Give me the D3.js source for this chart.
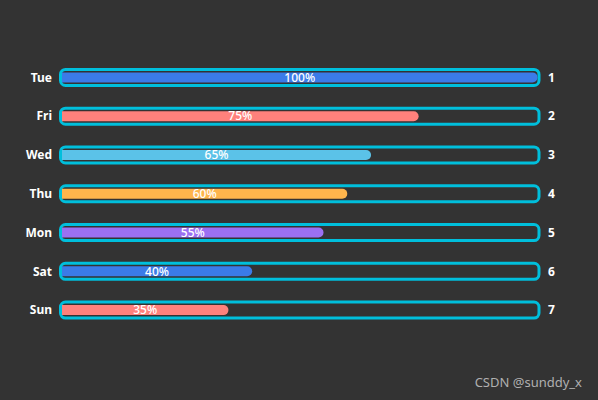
<!DOCTYPE html>
<html><head><meta charset="utf-8">
<script src="https://cdn.jsdelivr.net/npm/d3@7/dist/d3.min.js"></script>
<style>html,body{margin:0;padding:0;background:#333333;}svg{display:block;}</style>
</head><body>
<svg id="c" width="598" height="400"></svg>
<script>
const categories = ["Tue","Fri","Wed","Thu","Mon","Sat","Sun"];
const values = [100,75,65,60,55,40,35];
const ranks = ["1","2","3","4","5","6","7"];
const palette = ["#3b7be8","#ff817c","#5bc2e8","#ffb54c","#9b70f2"];

const svg = d3.select("#c");
const W = 598, H = 400;
const y = d3.scaleBand().domain(categories).range([58, 329.5]);
const x = d3.scaleLinear().domain([0,100]).range([62, 537.5]);
const font = "'Microsoft YaHei','Noto Sans','DejaVu Sans',sans-serif";

const g = svg.append("g");
const rows = g.selectAll("g.row").data(categories).join("g")
  .attr("transform", d => `translate(0,${y(d)+y.bandwidth()/2})`);

// background bordered box
rows.append("rect")
  .attr("x", x(0)-1.5).attr("y", -8)
  .attr("width", x(100)-x(0)+3).attr("height", 16)
  .attr("rx", 5).attr("ry", 5)
  .attr("fill", "none").attr("stroke", "#00bfdc").attr("stroke-width", 3);

// value bars (right end rounded)
const bh = 10, r = 5;
rows.append("path")
  .attr("fill", (d,i) => palette[i % palette.length])
  .attr("d", (d,i) => {
    const x0 = x(0), x1 = x(values[i]);
    const rr = Math.min(r, (x1-x0)/2);
    return `M${x0},${-bh/2}H${x1-rr}A${rr},${rr} 0 0 1 ${x1},${-bh/2+rr}V${bh/2-rr}A${rr},${rr} 0 0 1 ${x1-rr},${bh/2}H${x0}Z`;
  });

// value labels
rows.append("text")
  .attr("x", (d,i) => (x(0)+x(values[i]))/2)
  .attr("y", 0).attr("dy", "0.35em")
  .attr("text-anchor", "middle")
  .attr("fill", "#ffffff").attr("font-size", 12).attr("font-weight", 500).attr("font-family", font)
  .text((d,i) => values[i] + "%");

// category labels
rows.append("text")
  .attr("x", 52).attr("y", 0).attr("dy", "0.35em")
  .attr("text-anchor", "end")
  .attr("fill", "#ffffff").attr("font-size", 12).attr("font-weight", "bold").attr("font-family", font)
  .text(d => d);

// rank labels
rows.append("text")
  .attr("x", 548).attr("y", 0).attr("dy", "0.35em")
  .attr("text-anchor", "start")
  .attr("fill", "#ffffff").attr("font-size", 12).attr("font-weight", "bold").attr("font-family", font)
  .text((d,i) => ranks[i]);

svg.append("text")
  .attr("x", 582).attr("y", 387).attr("text-anchor", "end")
  .attr("fill", "#b0b0b0").attr("font-size", 13).attr("font-family", font)
  .text("CSDN @sunddy_x");
</script>
</body></html>
